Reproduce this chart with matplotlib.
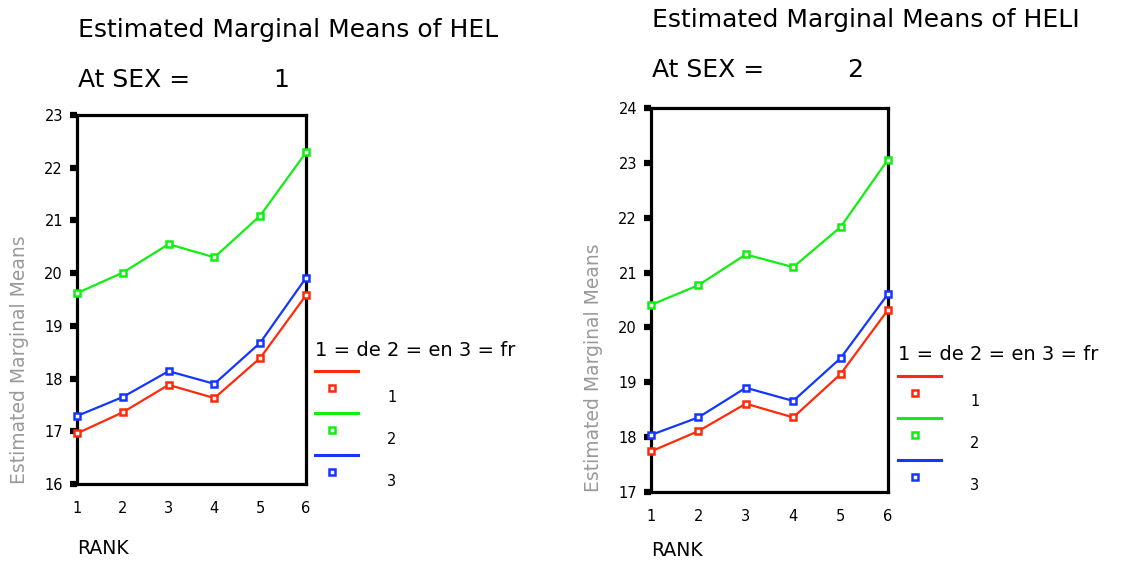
import matplotlib
matplotlib.use("Agg")
import matplotlib.pyplot as plt
from matplotlib.lines import Line2D

rank = [1, 2, 3, 4, 5, 6]

# SEX = 1
sex1_de = [16.96, 17.36, 17.88, 17.63, 18.39, 19.58]
sex1_en = [19.62, 20.01, 20.55, 20.30, 21.09, 22.29]
sex1_fr = [17.29, 17.65, 18.14, 17.90, 18.68, 19.91]

# SEX = 2
sex2_de = [17.74, 18.11, 18.61, 18.36, 19.15, 20.32]
sex2_en = [20.41, 20.77, 21.33, 21.10, 21.83, 23.06]
sex2_fr = [18.04, 18.36, 18.90, 18.66, 19.44, 20.61]

legend_title = "1 = de 2 = en 3 = fr"
group_labels = ["1", "2", "3"]
colors = ["#ff2a0a", "#11ee11", "#1436ff"]

W, H = 1146, 563


def fx(x):
    return x / W


def fy(y):
    return 1 - y / H


def panel(fig, box, series, yrange, sex, title_y, leg, rank_y):
    x0, y0, x1, y1 = box
    ax = fig.add_axes([fx(x0), fy(y1), fx(x1) - fx(x0), fy(y0) - fy(y1)])
    for vals, c in zip(series, colors):
        ax.plot(rank, vals, color=c, lw=1.6, marker="s", ms=5,
                mfc="white", mec=c, mew=1.8, clip_on=False, zorder=3)
    ax.set_xlim(1, 6)
    ax.set_ylim(*yrange)
    ax.set_xticks(rank)
    ax.set_yticks(range(yrange[0], yrange[1] + 1))
    for s in ax.spines.values():
        s.set_linewidth(2.3)
    ax.tick_params(axis="y", length=5, width=4.5, direction="out", labelsize=10.5, pad=5)
    ax.tick_params(axis="x", length=0, labelsize=10.5, pad=12)
    ax.set_ylabel("Estimated Marginal Means", fontsize=13.5, color="#999999",
                  loc="bottom", labelpad=11)
    fig.text(fx(x0), fy(rank_y), "RANK", fontsize=13.5, va="baseline", ha="left")

    fig.text(fx(x0 + 1), fy(title_y), "Estimated Marginal Means of HEL" + ("I" if sex == 2 else ""),
             fontsize=18, va="center", ha="left")
    fig.text(fx(x0 + 1), fy(title_y + 50), "At SEX =", fontsize=18, va="center", ha="left")
    fig.text(fx(x0 + 196), fy(title_y + 50), str(sex), fontsize=18, va="center", ha="left")

    lx, ly = leg
    fig.text(fx(lx), fy(ly), legend_title, fontsize=14, va="center", ha="left")
    for i, c in enumerate(colors):
        yl = ly + 21 + i * 42
        fig.add_artist(Line2D([fx(lx), fx(lx + 43)], [fy(yl), fy(yl)], color=c, lw=2.2))
        fig.add_artist(Line2D([fx(lx + 17)], [fy(yl + 17)], color=c, marker="s", ms=5,
                              mfc="white", mec=c, mew=1.8))
        fig.text(fx(lx + 72), fy(yl + 26), group_labels[i], fontsize=10.5, va="center", ha="left")
    return ax


fig = plt.figure(figsize=(W / 100, H / 100), dpi=100)
panel(fig, (77, 115, 306, 484), [sex1_de, sex1_en, sex1_fr], (16, 23), 1, 30, (315, 350), 554)
panel(fig, (651, 108, 888, 492), [sex2_de, sex2_en, sex2_fr], (17, 24), 2, 20, (898, 355), 556)
fig.savefig("out.png", dpi=100)
